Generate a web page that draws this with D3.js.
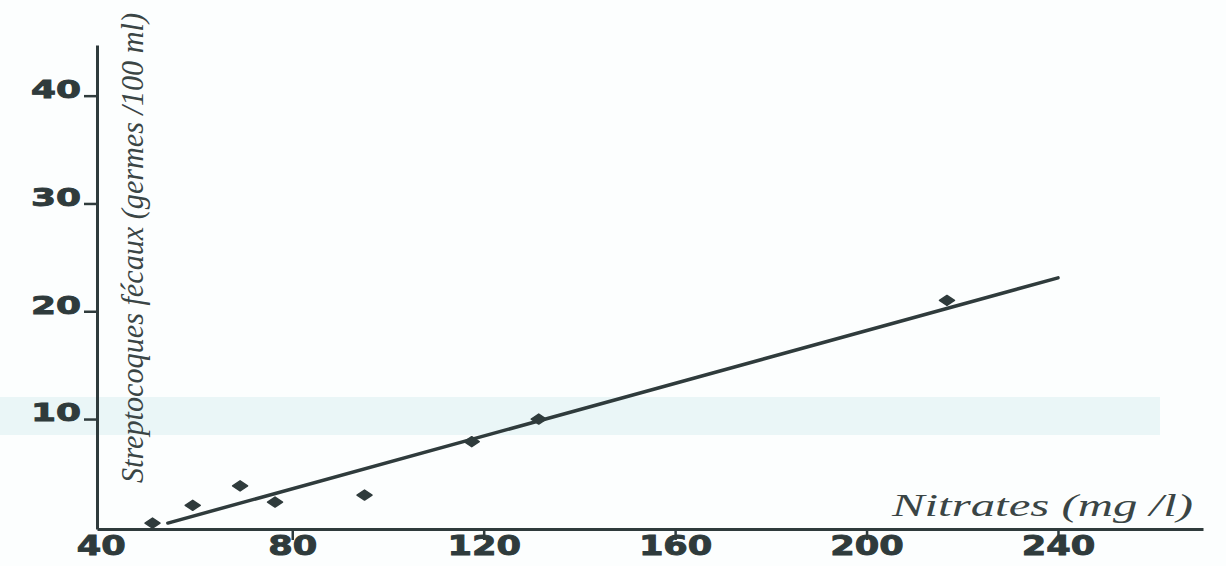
<!DOCTYPE html>
<html>
<head>
<meta charset="utf-8">
<script src="https://cdn.jsdelivr.net/npm/d3@7"></script>
<style>
  html, body { margin: 0; padding: 0; background: #fcfefe; }
  svg { display: block; }
</style>
</head>
<body>
<svg id="chart" width="1226" height="566"></svg>
<script>
// ---- data ----
const xTickValues = [40, 80, 120, 160, 200, 240];
const yTickValues = [10, 20, 30, 40];
const nitrates = [50.8, 59.2, 69.1, 76.4, 95.1, 117.5, 131.5, 216.8];
const streptocoques = [0.35, 2.0, 3.8, 2.3, 2.95, 7.9, 10.0, 21.0];
const fitNitrates = [54, 240];
const fitStrepto = [0.35, 23.1];
const xTitle = "Nitrates (mg /l)";
const yTitle = "Streptocoques fécaux (germes /100 ml)";

const ink = "#2f3b3c";
const svg = d3.select("#chart");

// faint scanned-paper tint band
svg.append("rect").attr("x", 0).attr("y", 397).attr("width", 1160).attr("height", 38)
  .attr("fill", "#eaf6f7");

const x = d3.scaleLinear().domain([39.2, 270.3]).range([97, 1203]);
const y = d3.scaleLinear().domain([-0.2, 44.7]).range([529, 45]);

// X axis
const gx = svg.append("g").attr("transform", `translate(0,${y(-0.2)})`)
  .call(d3.axisBottom(x).tickValues(xTickValues).tickSize(11).tickSizeOuter(0).tickPadding(-3));
gx.select(".domain").attr("stroke", ink).attr("stroke-width", 3);
gx.selectAll(".tick line").attr("stroke", ink).attr("stroke-width", 2.5)
  .attr("display", d => d === 40 ? "none" : null);
gx.selectAll(".tick text")
  .attr("fill", ink)
  .attr("stroke", ink)
  .attr("stroke-width", 0.9)
  .attr("font-family", "'DejaVu Sans', sans-serif")
  .attr("font-weight", "bold")
  .attr("font-size", 26)
  .attr("textLength", d => String(d).length * 24.5)
  .attr("lengthAdjust", "spacingAndGlyphs");

// Y axis
const gy = svg.append("g").attr("transform", `translate(${x(39.2)},0)`)
  .call(d3.axisLeft(y).tickValues(yTickValues).tickSize(13).tickSizeOuter(0).tickPadding(3));
gy.select(".domain").attr("stroke", ink).attr("stroke-width", 3);
gy.selectAll(".tick line").attr("stroke", ink).attr("stroke-width", 2.5);
gy.selectAll(".tick text")
  .attr("fill", ink)
  .attr("stroke", ink)
  .attr("stroke-width", 0.9)
  .attr("dy", "0.08em")
  .attr("font-family", "'DejaVu Sans', sans-serif")
  .attr("font-weight", "bold")
  .attr("font-size", 24)
  .attr("textLength", d => String(d).length * 25)
  .attr("lengthAdjust", "spacingAndGlyphs");

// regression line
const fit = fitNitrates.map((v, i) => [v, fitStrepto[i]]);
svg.append("path")
  .datum(fit)
  .attr("fill", "none")
  .attr("stroke", ink)
  .attr("stroke-width", 3.5)
  .attr("stroke-linecap", "round")
  .attr("d", d3.line().x(d => x(d[0])).y(d => y(d[1])));

// points (flattened diamonds)
const flatDiamond = {
  draw(ctx, size) {
    const w = Math.sqrt(size) * 0.75, h = Math.sqrt(size) * 0.5;
    ctx.moveTo(-w, 0); ctx.lineTo(0, -h); ctx.lineTo(w, 0); ctx.lineTo(0, h); ctx.closePath();
  }
};
const pts = nitrates.map((v, i) => [v, streptocoques[i]]);
svg.append("g").selectAll("path").data(pts).join("path")
  .attr("transform", d => `translate(${x(d[0])},${y(d[1])})`)
  .attr("d", d3.symbol().type(flatDiamond).size(100))
  .attr("fill", ink)
  .attr("stroke", ink)
  .attr("stroke-width", 1.5)
  .attr("stroke-linejoin", "round");

// axis titles
svg.append("text")
  .attr("x", 892).attr("y", 516)
  .attr("font-family", "'Liberation Serif', 'DejaVu Serif', serif")
  .attr("font-style", "italic")
  .attr("font-size", 31)
  .attr("fill", "#3a4545")
  .attr("textLength", 301)
  .attr("lengthAdjust", "spacingAndGlyphs")
  .text(xTitle);

svg.append("text")
  .attr("transform", "translate(143,483) rotate(-90)")
  .attr("x", 0).attr("y", 0)
  .attr("font-family", "'Liberation Serif', 'DejaVu Serif', serif")
  .attr("font-style", "italic")
  .attr("font-size", 31)
  .attr("fill", "#3a4545")
  .attr("textLength", 470)
  .attr("lengthAdjust", "spacingAndGlyphs")
  .text(yTitle);
</script>
</body>
</html>
